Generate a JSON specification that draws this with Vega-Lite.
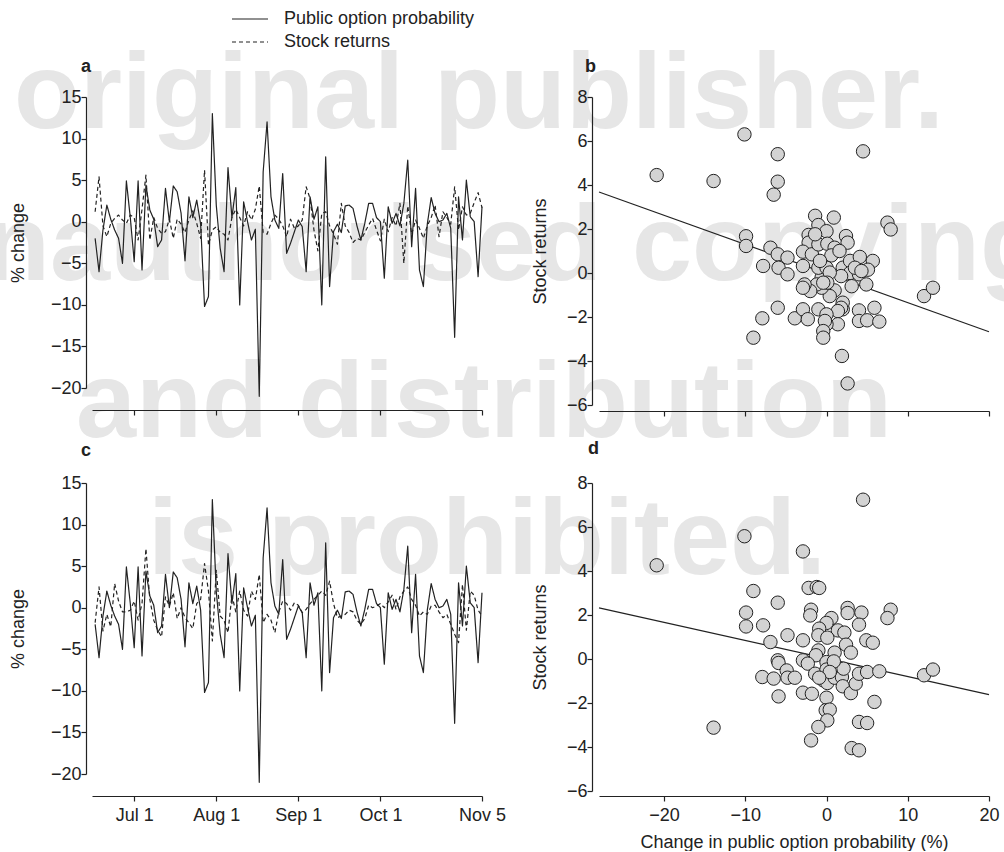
{
  "$schema": "https://vega.github.io/schema/vega-lite/v6.json",
  "background": "white",
  "padding": {"left": -95, "top": 10, "right": -41, "bottom": 0},
  "columns": 2,
  "spacing": {"row": 78, "column": 117},
  "bounds": "flush",
  "resolve": {"scale": {"strokeDash": "independent"}, "legend": {"strokeDash": "independent"}},
  "config": {
    "view": {"stroke": null},
    "font": "Liberation Sans",
    "axis": {"labelFont": "Liberation Sans", "labelFontSize": 18, "labelColor": "#222", "titleFont": "Liberation Sans", "titleFontSize": 18, "titleFontWeight": "normal", "titleColor": "#222", "domainColor": "#222", "tickColor": "#222", "domainWidth": 1.2, "tickWidth": 1.2, "tickSize": 5, "grid": false, "labelPadding": 0, "labelFlush": false, "labelOverlap": false},
    "title": {"anchor": "start", "frame": "group", "baseline": "alphabetic", "font": "Liberation Sans", "fontSize": 18, "fontWeight": "bold", "color": "#222"}
  },
  "datasets": {
    "wm": [
      {"label": "original publisher.", "t": -20.76, "value": 11.27},
      {"label": "Unauthorised copying", "t": -48.4, "value": -7.01},
      {"label": "and distribution", "t": -4.89, "value": -25.9},
      {"label": "is prohibited.", "t": 13.53, "value": -42.37}
    ],
    "ts": [
      {"t": 0, "pop": -2.0, "sr1": 1.2, "sr2": -1.8},
      {"t": 1, "pop": -6.0, "sr1": 5.4, "sr2": 2.5},
      {"t": 2, "pop": -1.0, "sr1": -0.5, "sr2": -2.8},
      {"t": 3, "pop": 2.0, "sr1": -1.8, "sr2": -0.8},
      {"t": 4, "pop": 0.3, "sr1": -0.2, "sr2": -2.3},
      {"t": 5, "pop": -1.0, "sr1": 0.4, "sr2": 2.9},
      {"t": 6, "pop": -2.0, "sr1": 0.8, "sr2": 0.8},
      {"t": 7, "pop": -5.0, "sr1": 0.2, "sr2": -0.5},
      {"t": 8, "pop": 4.9, "sr1": -0.2, "sr2": -0.5},
      {"t": 9, "pop": 0.5, "sr1": 0.8, "sr2": -0.3},
      {"t": 10, "pop": -4.8, "sr1": 0.5, "sr2": 0.8},
      {"t": 11, "pop": 4.9, "sr1": -2.2, "sr2": -1.5},
      {"t": 12, "pop": -5.8, "sr1": 1.5, "sr2": 0.5},
      {"t": 13, "pop": 4.4, "sr1": 5.6, "sr2": 7.1},
      {"t": 14, "pop": 1.4, "sr1": -2.2, "sr2": 1.0},
      {"t": 15, "pop": 0.3, "sr1": 0.5, "sr2": -1.5},
      {"t": 16, "pop": -3.0, "sr1": -0.8, "sr2": -2.7},
      {"t": 17, "pop": -2.2, "sr1": -1.4, "sr2": -3.5},
      {"t": 18, "pop": 4.0, "sr1": -1.2, "sr2": 1.3},
      {"t": 19, "pop": 0.0, "sr1": 0.3, "sr2": 0.2},
      {"t": 20, "pop": 4.3, "sr1": -2.0, "sr2": 1.8},
      {"t": 21, "pop": 3.6, "sr1": 0.3, "sr2": -1.3},
      {"t": 22, "pop": 1.0, "sr1": -0.3, "sr2": 0.0},
      {"t": 23, "pop": -4.7, "sr1": -1.3, "sr2": -1.2},
      {"t": 24, "pop": 3.0, "sr1": 0.2, "sr2": -1.8},
      {"t": 25, "pop": 0.5, "sr1": 1.3, "sr2": -2.5},
      {"t": 26, "pop": 2.6, "sr1": -0.2, "sr2": 0.5},
      {"t": 27, "pop": -0.3, "sr1": -2.0, "sr2": 1.0},
      {"t": 28, "pop": -10.2, "sr1": 6.2, "sr2": 5.3},
      {"t": 29, "pop": -9.0, "sr1": -2.8, "sr2": 2.0},
      {"t": 30, "pop": 13.0, "sr1": -1.0, "sr2": -4.0},
      {"t": 31, "pop": 2.0, "sr1": -0.6, "sr2": 4.5},
      {"t": 32, "pop": -3.2, "sr1": -1.3, "sr2": -1.0},
      {"t": 33, "pop": -6.0, "sr1": -1.5, "sr2": -1.5},
      {"t": 34, "pop": 6.5, "sr1": -2.2, "sr2": -3.0},
      {"t": 35, "pop": 0.5, "sr1": 0.5, "sr2": 1.5},
      {"t": 36, "pop": 4.1, "sr1": 1.5, "sr2": -0.5},
      {"t": 37, "pop": -10.0, "sr1": 0.5, "sr2": 2.0},
      {"t": 38, "pop": 2.4, "sr1": -0.5, "sr2": -0.3},
      {"t": 39, "pop": 0.0, "sr1": 1.2, "sr2": -1.0},
      {"t": 40, "pop": -2.2, "sr1": 0.2, "sr2": 2.0},
      {"t": 41, "pop": -0.9, "sr1": 1.5, "sr2": 1.0},
      {"t": 42, "pop": -21.0, "sr1": 4.3, "sr2": 4.0},
      {"t": 43, "pop": 6.0, "sr1": -1.3, "sr2": -1.8},
      {"t": 44, "pop": 12.0, "sr1": -1.5, "sr2": -0.8},
      {"t": 45, "pop": 3.0, "sr1": -0.2, "sr2": -1.5},
      {"t": 46, "pop": 0.2, "sr1": 0.8, "sr2": -3.0},
      {"t": 47, "pop": -0.8, "sr1": 0.3, "sr2": -0.5},
      {"t": 48, "pop": 5.8, "sr1": -0.5, "sr2": 0.8},
      {"t": 49, "pop": -3.8, "sr1": -1.8, "sr2": 0.5},
      {"t": 50, "pop": -2.6, "sr1": 0.3, "sr2": -0.3},
      {"t": 51, "pop": -1.2, "sr1": -0.8, "sr2": 0.6},
      {"t": 52, "pop": 0.2, "sr1": -0.5, "sr2": 0.3},
      {"t": 53, "pop": -0.6, "sr1": 0.2, "sr2": -0.6},
      {"t": 54, "pop": -6.0, "sr1": 4.2, "sr2": -0.2},
      {"t": 55, "pop": 3.0, "sr1": 2.8, "sr2": 0.5},
      {"t": 56, "pop": 0.3, "sr1": -1.0, "sr2": 1.0},
      {"t": 57, "pop": 1.8, "sr1": -3.5, "sr2": 1.5},
      {"t": 58, "pop": -10.0, "sr1": 1.0, "sr2": 2.0},
      {"t": 59, "pop": 7.8, "sr1": 1.2, "sr2": 1.5},
      {"t": 60, "pop": -7.8, "sr1": -0.5, "sr2": 3.2},
      {"t": 61, "pop": -1.2, "sr1": -1.5, "sr2": 0.5},
      {"t": 62, "pop": -0.3, "sr1": -2.7, "sr2": -1.2},
      {"t": 63, "pop": -1.3, "sr1": 2.2, "sr2": -1.0},
      {"t": 64, "pop": 1.9, "sr1": -0.5, "sr2": -0.8},
      {"t": 65, "pop": 2.0, "sr1": -1.3, "sr2": -0.3},
      {"t": 66, "pop": 1.6, "sr1": -2.5, "sr2": -0.5},
      {"t": 67, "pop": -0.5, "sr1": -2.0, "sr2": -1.5},
      {"t": 68, "pop": -2.2, "sr1": -2.2, "sr2": -2.0},
      {"t": 69, "pop": -0.2, "sr1": -1.3, "sr2": -1.3},
      {"t": 70, "pop": 2.2, "sr1": -0.4, "sr2": 0.3},
      {"t": 71, "pop": 2.2, "sr1": 0.4, "sr2": 0.0},
      {"t": 72, "pop": 0.5, "sr1": -1.0, "sr2": 0.2},
      {"t": 73, "pop": 0.0, "sr1": -2.3, "sr2": 0.5},
      {"t": 74, "pop": -6.8, "sr1": 0.3, "sr2": 0.0},
      {"t": 75, "pop": 1.8, "sr1": -1.2, "sr2": 0.7},
      {"t": 76, "pop": -0.2, "sr1": 0.5, "sr2": 1.5},
      {"t": 77, "pop": 1.0, "sr1": -0.5, "sr2": -0.2},
      {"t": 78, "pop": -0.5, "sr1": 2.2, "sr2": 1.3},
      {"t": 79, "pop": 2.2, "sr1": -5.0, "sr2": 2.0},
      {"t": 80, "pop": 7.4, "sr1": 1.9, "sr2": 2.5},
      {"t": 81, "pop": -3.0, "sr1": -1.5, "sr2": 1.0},
      {"t": 82, "pop": 4.0, "sr1": 0.2, "sr2": 0.3},
      {"t": 83, "pop": -5.8, "sr1": -0.8, "sr2": -1.0},
      {"t": 84, "pop": -7.8, "sr1": -2.0, "sr2": -0.5},
      {"t": 85, "pop": -0.3, "sr1": -0.5, "sr2": -0.8},
      {"t": 86, "pop": 2.9, "sr1": 0.5, "sr2": 0.2},
      {"t": 87, "pop": 1.0, "sr1": 2.0, "sr2": 0.3},
      {"t": 88, "pop": 0.0, "sr1": -1.8, "sr2": -0.5},
      {"t": 89, "pop": 0.2, "sr1": 1.2, "sr2": -1.2},
      {"t": 90, "pop": 1.0, "sr1": 0.5, "sr2": -0.8},
      {"t": 91, "pop": -0.8, "sr1": -0.3, "sr2": -2.0},
      {"t": 92, "pop": -13.9, "sr1": 4.2, "sr2": -3.2},
      {"t": 93, "pop": 3.0, "sr1": -1.0, "sr2": -4.2},
      {"t": 94, "pop": -2.2, "sr1": 1.8, "sr2": 2.8},
      {"t": 95, "pop": 5.0, "sr1": 0.8, "sr2": -2.7},
      {"t": 96, "pop": 0.6, "sr1": 1.0, "sr2": 2.0},
      {"t": 97, "pop": 0.0, "sr1": 2.3, "sr2": 1.5},
      {"t": 98, "pop": -6.6, "sr1": 3.5, "sr2": -0.3},
      {"t": 99, "pop": 1.8, "sr1": 1.7, "sr2": -1.0}
    ],
    "sb": [
      {"x": -20.9, "y": 4.45}, {"x": -13.9, "y": 4.18}, {"x": -10.1, "y": 6.3}, {"x": -6.0, "y": 5.4}, {"x": -6.0, "y": 4.15},
      {"x": -6.5, "y": 3.56}, {"x": 4.5, "y": 5.53}, {"x": -9.9, "y": 1.67}, {"x": -9.9, "y": 1.23}, {"x": -6.9, "y": 1.15},
      {"x": -6.0, "y": 0.85}, {"x": -4.8, "y": 0.7}, {"x": -7.8, "y": 0.32}, {"x": -5.9, "y": 0.24}, {"x": -4.8, "y": -0.06},
      {"x": -6.0, "y": -1.58}, {"x": -7.9, "y": -2.06}, {"x": -9.0, "y": -2.94}, {"x": -3.9, "y": -2.06}, {"x": -2.9, "y": -1.65},
      {"x": -2.3, "y": -2.1}, {"x": -1.0, "y": -1.65}, {"x": -1.4, "y": 2.6}, {"x": -1.0, "y": 2.18}, {"x": -2.2, "y": 1.73},
      {"x": -2.2, "y": 1.38}, {"x": -2.9, "y": 0.97}, {"x": -2.9, "y": 0.32}, {"x": -1.8, "y": 0.85}, {"x": -1.0, "y": 1.3},
      {"x": 0.0, "y": 1.9}, {"x": 0.1, "y": 1.33}, {"x": 0.9, "y": 2.52}, {"x": 1.0, "y": 1.15}, {"x": 0.6, "y": 0.8},
      {"x": 2.4, "y": 1.68}, {"x": 2.6, "y": 1.38}, {"x": 2.0, "y": 0.24}, {"x": 2.9, "y": 0.55}, {"x": 4.1, "y": 0.73},
      {"x": 5.7, "y": 0.55}, {"x": 5.1, "y": 0.15}, {"x": 2.9, "y": 0.0}, {"x": 4.0, "y": -0.06}, {"x": 4.9, "y": -0.52},
      {"x": 3.1, "y": -0.6}, {"x": 1.8, "y": -0.14}, {"x": 1.0, "y": -0.79}, {"x": 0.4, "y": -1.05}, {"x": -0.6, "y": -0.2},
      {"x": -1.0, "y": 0.24}, {"x": 0.0, "y": 0.24}, {"x": 0.4, "y": 0.02}, {"x": -0.6, "y": -0.67}, {"x": -1.2, "y": -0.52},
      {"x": -2.0, "y": -0.82}, {"x": -2.7, "y": -0.52}, {"x": -2.9, "y": -0.67}, {"x": 0.1, "y": -0.44}, {"x": -0.4, "y": -0.44},
      {"x": 2.0, "y": -1.65}, {"x": 2.0, "y": -1.35}, {"x": 1.8, "y": -1.58}, {"x": 1.4, "y": -1.73}, {"x": 1.4, "y": -2.33},
      {"x": 0.0, "y": -1.88}, {"x": 0.0, "y": -2.33}, {"x": -0.2, "y": -2.18}, {"x": -0.4, "y": -2.64}, {"x": -0.4, "y": -2.94},
      {"x": 4.0, "y": -1.7}, {"x": 4.0, "y": -2.18}, {"x": 5.0, "y": -2.15}, {"x": 5.9, "y": -1.58}, {"x": 6.5, "y": -2.21},
      {"x": 1.9, "y": -3.77}, {"x": 2.6, "y": -5.02}, {"x": 7.5, "y": 2.29}, {"x": 7.9, "y": 1.98}, {"x": 12.0, "y": -1.05},
      {"x": 13.1, "y": -0.67}, {"x": 1.6, "y": 1.0}, {"x": 3.5, "y": 0.24}, {"x": 4.3, "y": 0.09}, {"x": -1.4, "y": 1.76},
      {"x": -0.8, "y": 0.55}
    ],
    "sd": [
      {"x": -20.9, "y": 4.26}, {"x": 4.5, "y": 7.24}, {"x": -10.1, "y": 5.58}, {"x": -2.9, "y": 4.89}, {"x": -13.9, "y": -3.12},
      {"x": -9.0, "y": 3.09}, {"x": -6.0, "y": 2.56}, {"x": -2.2, "y": 3.23}, {"x": -1.2, "y": 3.27}, {"x": -0.9, "y": 3.23},
      {"x": -9.9, "y": 2.11}, {"x": -9.9, "y": 1.48}, {"x": -7.8, "y": 1.53}, {"x": -6.9, "y": 0.77}, {"x": -4.8, "y": 1.08},
      {"x": -2.9, "y": 0.85}, {"x": -1.9, "y": 2.24}, {"x": -2.0, "y": 1.98}, {"x": 2.6, "y": 2.32}, {"x": 2.6, "y": 2.09},
      {"x": 4.3, "y": 2.11}, {"x": 4.0, "y": 1.56}, {"x": 7.9, "y": 2.24}, {"x": 7.5, "y": 1.86}, {"x": 0.6, "y": 1.86},
      {"x": 0.0, "y": 1.64}, {"x": -0.9, "y": 1.38}, {"x": -1.0, "y": 1.08}, {"x": 1.4, "y": 1.3}, {"x": 2.2, "y": 1.2},
      {"x": 0.1, "y": 0.97}, {"x": 4.9, "y": 0.85}, {"x": 5.7, "y": 0.74}, {"x": 2.4, "y": 0.65}, {"x": 3.0, "y": 0.29},
      {"x": 1.0, "y": 0.29}, {"x": -1.0, "y": 0.39}, {"x": -1.3, "y": 0.17}, {"x": -2.9, "y": -0.06}, {"x": -2.3, "y": -0.21},
      {"x": -6.0, "y": -0.06}, {"x": -5.9, "y": -0.18}, {"x": -4.9, "y": -0.52}, {"x": -4.8, "y": -0.85}, {"x": -3.9, "y": -0.85},
      {"x": -7.9, "y": -0.82}, {"x": -6.5, "y": -0.89}, {"x": -5.9, "y": -1.7}, {"x": -2.9, "y": -1.53}, {"x": -1.8, "y": -1.58},
      {"x": -1.4, "y": -0.67}, {"x": 0.0, "y": -0.14}, {"x": 0.0, "y": -0.48}, {"x": -0.4, "y": -0.97}, {"x": 0.1, "y": -1.09},
      {"x": 1.0, "y": -0.85}, {"x": 1.9, "y": -0.82}, {"x": 2.1, "y": -0.44}, {"x": 2.0, "y": -1.24}, {"x": 3.0, "y": -1.55},
      {"x": 3.6, "y": -1.12}, {"x": 4.0, "y": -0.67}, {"x": 5.0, "y": -0.59}, {"x": 6.5, "y": -0.56}, {"x": 12.0, "y": -0.74},
      {"x": 13.1, "y": -0.48}, {"x": 5.9, "y": -1.95}, {"x": 0.0, "y": -1.76}, {"x": -0.1, "y": -2.33}, {"x": 0.4, "y": -2.3},
      {"x": 0.1, "y": -2.79}, {"x": -1.0, "y": -3.09}, {"x": -1.9, "y": -3.7}, {"x": 4.0, "y": -2.86}, {"x": 5.0, "y": -2.91},
      {"x": 3.1, "y": -4.05}, {"x": 4.0, "y": -4.15}, {"x": 0.9, "y": -0.11}, {"x": 0.4, "y": -0.59}, {"x": -0.9, "y": -0.85}
    ],
    "rb": [{"x": -28, "y": 3.68}, {"x": 20, "y": -2.67}],
    "rd": [{"x": -28, "y": 2.32}, {"x": 20, "y": -1.62}]
  },
  "concat": [
    {
      "width": 390, "height": 291,
      "title": {"text": "a", "offset": -66, "dx": -11},
      "encoding": {
        "x": {"field": "t", "type": "quantitative", "scale": {"domain": [-0.8, 99], "nice": false, "zero": false},
              "axis": {"values": [10, 31, 52, 73, 99], "labels": false, "offset": 22, "title": null, "zindex": 2}},
        "y": {"field": "value", "type": "quantitative", "scale": {"domain": [-20, 15], "nice": false, "zero": false},
              "axis": {"values": [-20, -15, -10, -5, 0, 5, 10, 15], "offset": 6, "title": "% change", "titlePadding": 23, "zindex": 2}}
      },
      "layer": [
        {"data": {"name": "wm"},
         "mark": {"type": "text", "align": "left", "baseline": "alphabetic", "font": "Liberation Sans", "fontWeight": "bold", "fontSize": 108, "color": "#e6e6e6"},
         "encoding": {"text": {"field": "label", "type": "nominal"}}},
        {"data": {"name": "ts"},
         "transform": [{"fold": ["pop", "sr1"]}],
         "mark": {"type": "line", "color": "#222", "strokeWidth": 1.2, "strokeJoin": "round"},
         "encoding": {
           "strokeDash": {"field": "key", "type": "nominal",
             "scale": {"domain": ["pop", "sr1"], "range": [[1, 0], [4, 3]]},
             "legend": {"orient": "none", "legendX": 149, "legendY": -87, "title": null, "padding": 0, "zindex": 2,
                        "symbolType": "M-3,0H3", "symbolSize": 144, "symbolStrokeWidth": 1.2, "symbolStrokeColor": "#222",
                        "labelFont": "Liberation Sans", "labelFontSize": 18, "labelColor": "#222", "labelOffset": 25, "rowPadding": 5, "labelLimit": 0,
                        "labelExpr": "datum.label == 'pop' ? 'Public option probability' : 'Stock returns'"}}
         }}
      ]
    },
    {
      "width": 390, "height": 308,
      "title": {"text": "b", "offset": 12, "dx": -14},
      "encoding": {
        "x": {"field": "x", "type": "quantitative", "scale": {"domain": [-28, 20], "nice": false, "zero": false},
              "axis": {"values": [-20, -10, 0, 10, 20], "labels": false, "offset": 6, "title": null, "zindex": 2}},
        "y": {"field": "y", "type": "quantitative", "scale": {"domain": [-6, 8], "nice": false, "zero": false},
              "axis": {"values": [-6, -4, -2, 0, 2, 4, 6, 8], "offset": 7, "title": "Stock returns", "titlePadding": 17, "zindex": 2}}
      },
      "layer": [
        {"data": {"name": "rb"}, "mark": {"type": "line", "color": "#222", "strokeWidth": 1.2}, "encoding": {}},
        {"data": {"name": "sb"}, "mark": {"type": "circle", "size": 180, "fill": "#d3d3d3", "stroke": "#222", "strokeWidth": 1, "opacity": 1, "fillOpacity": 1}, "encoding": {}}
      ]
    },
    {
      "width": 390, "height": 291,
      "title": {"text": "c", "offset": 14, "dx": -11},
      "encoding": {
        "x": {"field": "t", "type": "quantitative", "scale": {"domain": [-0.8, 99], "nice": false, "zero": false},
              "axis": {"values": [10, 31, 52, 73, 99], "offset": 22, "title": null, "labelPadding": 5, "zindex": 2,
                       "labelExpr": "datum.value == 10 ? 'Jul 1' : datum.value == 31 ? 'Aug 1' : datum.value == 52 ? 'Sep 1' : datum.value == 73 ? 'Oct 1' : 'Nov 5'"}},
        "y": {"field": "value", "type": "quantitative", "scale": {"domain": [-20, 15], "nice": false, "zero": false},
              "axis": {"values": [-20, -15, -10, -5, 0, 5, 10, 15], "offset": 6, "title": "% change", "titlePadding": 23, "zindex": 2}}
      },
      "layer": [
        {"data": {"name": "ts"},
         "transform": [{"fold": ["pop", "sr2"]}],
         "mark": {"type": "line", "color": "#222", "strokeWidth": 1.2, "strokeJoin": "round"},
         "encoding": {
           "strokeDash": {"field": "key", "type": "nominal",
             "scale": {"domain": ["pop", "sr2"], "range": [[1, 0], [4, 3]]},
             "legend": null}
         }}
      ]
    },
    {
      "width": 390, "height": 308,
      "title": {"text": "d", "offset": 16, "dx": -11},
      "encoding": {
        "x": {"field": "x", "type": "quantitative", "scale": {"domain": [-28, 20], "nice": false, "zero": false},
              "axis": {"values": [-20, -10, 0, 10, 20], "offset": 5, "title": "Change in public option probability (%)", "labelPadding": 5, "titlePadding": 9, "zindex": 2}},
        "y": {"field": "y", "type": "quantitative", "scale": {"domain": [-6, 8], "nice": false, "zero": false},
              "axis": {"values": [-6, -4, -2, 0, 2, 4, 6, 8], "offset": 7, "title": "Stock returns", "titlePadding": 17, "zindex": 2}}
      },
      "layer": [
        {"data": {"name": "rd"}, "mark": {"type": "line", "color": "#222", "strokeWidth": 1.2}, "encoding": {}},
        {"data": {"name": "sd"}, "mark": {"type": "circle", "size": 180, "fill": "#d3d3d3", "stroke": "#222", "strokeWidth": 1, "opacity": 1, "fillOpacity": 1}, "encoding": {}}
      ]
    }
  ]
}
